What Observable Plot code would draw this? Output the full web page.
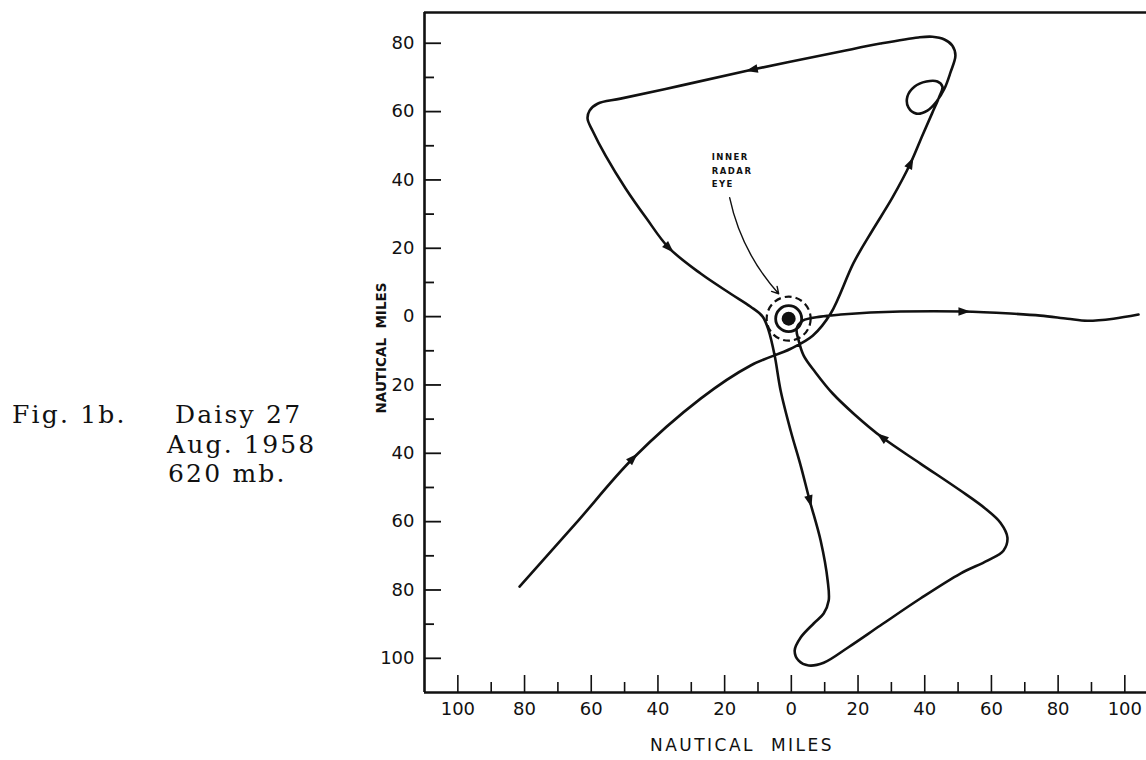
<!DOCTYPE html>
<html>
<head>
<meta charset="utf-8">
<script src="https://cdn.jsdelivr.net/npm/d3@7"></script>
<script src="https://cdn.jsdelivr.net/npm/@observablehq/plot@0.6"></script>
<style>
  html, body { margin: 0; padding: 0; background: #fff; }
  #wrap { position: relative; width: 1146px; height: 760px; background: #fff; overflow: hidden; }
  #wrap svg { position: absolute; left: 0; top: 0; }
  .fig { position: absolute; font-family: "DejaVu Serif", serif; font-size: 25px; line-height: 25px; letter-spacing: 2.2px; white-space: pre; color: #111; }
  .ylab { position: absolute; left: 381px; top: 348px; transform: translate(-50%, -50%) rotate(-90deg); font-family: "DejaVu Sans", sans-serif; font-weight: bold; font-size: 13.5px; letter-spacing: 0px; white-space: pre; color: #111; }
  .xlab { position: absolute; left: 742px; top: 745px; transform: translate(-50%, -50%); font-family: "DejaVu Sans", sans-serif; font-size: 17px; letter-spacing: 2.5px; white-space: pre; color: #111; }
</style>
</head>
<body>
<div id="wrap"></div>
<script>
// ---------- data (nautical miles; x east +, y north +) ----------
const trackX = [-81.5, -64.7, -47.6, -27.2, -12.2, -0.2, 6.4, 11.8, 18.7, 24.3, 30.3, 35.7, 39.3, 42.3, 44.4, 45.3, 43.8, 40.5, 36.9, 34.8, 35.1, 37.5, 40.8, 43.5, 45.9, 47.7, 49.2, 48.3, 45.9, 42.3, 38.1, 26.7, 14.8, -11.6, -33.2, -51.2, -58.1, -60.5, -61.1, -59.6, -55.7, -49.7, -43.4, -36.8, -27.2, -18.2, -12.2, -8.6, -6.8, -5.0, -3.2, -0.2, 2.8, 5.5, 8.8, 10.9, 11.2, 9.7, 6.7, 2.8, 1.0, 2.2, 5.2, 9.7, 16.9, 26.7, 38.7, 50.7, 58.8, 63.6, 64.8, 62.7, 58.2, 50.7, 38.7, 27.3, 18.7, 12.4, 7.3, 3.7, 2.2, 1.6, 3.4, 8.8, 14.8, 23.7, 32.7, 51.6, 65.7, 74.7, 82.8, 88.8, 96.6, 104.1];
const trackY = [-79.0, -60.6, -41.6, -24.0, -14.3, -9.4, -5.6, 0.9, 15.8, 25.2, 34.8, 44.8, 53.0, 59.7, 64.4, 67.3, 68.8, 68.8, 67.3, 64.4, 61.2, 59.4, 60.3, 62.9, 66.7, 71.4, 76.4, 79.3, 81.1, 81.9, 81.7, 79.9, 77.6, 72.3, 67.6, 63.8, 62.3, 60.3, 57.9, 54.4, 47.1, 37.5, 28.7, 20.2, 12.6, 6.7, 2.9, 0.0, -4.1, -11.4, -21.7, -33.4, -43.6, -53.8, -65.6, -77.3, -83.1, -86.9, -89.8, -93.9, -97.7, -100.7, -102.1, -101.3, -96.9, -90.4, -82.5, -75.2, -71.4, -68.5, -64.7, -60.3, -56.2, -50.9, -43.0, -35.4, -28.4, -22.5, -16.4, -11.4, -7.0, -3.5, -1.2, 0.0, 0.6, 1.2, 1.5, 1.5, 0.9, 0.3, -0.6, -1.2, -0.6, 0.6];

// direction arrowheads on the track (heading in degrees clockwise from north)
const arrowX = [-11.6, -36.8, -47.6, 35.7, 51.6, 5.5, 27.3];
const arrowY = [72.3, 20.2, -41.6, 44.8, 1.5, -53.8, -35.4];
const arrowHeading = [-102, 135, 45, 26, 90, 165, -53];

// inner radar eye
const eyeX = -0.8, eyeY = -0.6;

// annotation
const noteText = "INNER\nRADAR\nEYE";
const noteX = -23.9, noteY = 48.6;
const pointerFrom = [-18.5, 34.8];
const pointerTo = [-3.8, 6.7];

// axes
const xLabels = [-100, -80, -60, -40, -20, 0, 20, 40, 60, 80, 100];
const xMinor = [-90, -70, -50, -30, -10, 10, 30, 50, 70, 90];
const yLabels = [80, 60, 40, 20, 0, -20, -40, -60, -80, -100];
const yMinor = [70, 50, 30, 10, -10, -30, -50, -70, -90];
const xDomain = [-110, 106.5];
const yDomain = [-110, 89];
const axisTitle = "NAUTICAL  MILES";
const figLines = [
  {text: "Fig. 1b.", left: 12, top: 402},
  {text: "Daisy 27", left: 175, top: 402},
  {text: "Aug. 1958", left: 167, top: 432},
  {text: "620 mb.", left: 168, top: 461}
];

// ---------- layout ----------
const W = 1146, H = 760, mL = 424, mR = 0, mT = 12, mB = 68;
const plotW = W - mL - mR, plotH = H - mT - mB;

const track = trackX.map((x, i) => ({x, y: trackY[i]}));
const arrows = arrowX.map((x, i) => ({x, y: arrowY[i], a: arrowHeading[i]}));

// slim filled arrowhead symbol (points north before rotation)
const arrowSymbol = {
  draw(context, size) {
    const r = Math.sqrt(size / Math.PI);
    context.moveTo(0, -1.4 * r);
    context.lineTo(0.85 * r, 1.0 * r);
    context.lineTo(-0.85 * r, 1.0 * r);
    context.closePath();
  }
};

const abs = d => String(Math.abs(d));

const chart = Plot.plot({
  width: W, height: H,
  marginLeft: mL, marginRight: mR, marginTop: mT, marginBottom: mB,
  style: {fontFamily: "DejaVu Sans, sans-serif", fontSize: "18px", color: "#111", background: "transparent", overflow: "visible"},
  x: {domain: xDomain, ticks: xLabels, tickSize: 0, tickPadding: 10, tickFormat: abs, label: null},
  y: {domain: yDomain, ticks: yLabels, tickSize: 0, tickPadding: 10, tickFormat: abs, label: null},
  marks: [
    // frame
    Plot.ruleX([xDomain[0]], {stroke: "#111", strokeWidth: 2.6}),
    Plot.ruleY([yDomain[0]], {stroke: "#111", strokeWidth: 2.6}),
    Plot.ruleY([yDomain[1]], {stroke: "#111", strokeWidth: 2.6}),
    // inward ticks
    Plot.tickX(xLabels, {x: d => d, insetTop: plotH - 17, stroke: "#111", strokeWidth: 1.6}),
    Plot.tickX(xMinor, {x: d => d, insetTop: plotH - 10, stroke: "#111", strokeWidth: 1.6}),
    Plot.tickY(yLabels, {y: d => d, insetRight: plotW - 17, stroke: "#111", strokeWidth: 1.8}),
    Plot.tickY(yMinor, {y: d => d, insetRight: plotW - 10, stroke: "#111", strokeWidth: 1.8}),
    // track
    Plot.line(track, {x: "x", y: "y", curve: "catmull-rom", stroke: "#111", strokeWidth: 2.6, strokeLinejoin: "round"}),
    Plot.dot(arrows, {x: "x", y: "y", rotate: "a", symbol: arrowSymbol, r: 5, fill: "#111", stroke: "none"}),
    // eye
    Plot.dot([{x: eyeX, y: eyeY}], {x: "x", y: "y", r: 22, fill: "none", stroke: "#111", strokeWidth: 2.2, strokeDasharray: "7,4"}),
    Plot.dot([{x: eyeX, y: eyeY}], {x: "x", y: "y", r: 13, fill: "none", stroke: "#111", strokeWidth: 2.8}),
    Plot.dot([{x: eyeX, y: eyeY}], {x: "x", y: "y", r: 7, fill: "#111", stroke: "none"}),
    // annotation
    Plot.arrow([{x1: pointerFrom[0], y1: pointerFrom[1], x2: pointerTo[0], y2: pointerTo[1]}],
      {x1: "x1", y1: "y1", x2: "x2", y2: "y2", bend: -15, headLength: 8, stroke: "#111", strokeWidth: 1.4}),
    Plot.text([noteText], {x: noteX, y: noteY, text: d => d, textAnchor: "start", lineAnchor: "top", lineHeight: 1.6, fontSize: 8.5, fontWeight: "bold", fill: "#111"})
  ]
});

// letter spacing for the small annotation text
chart.querySelectorAll('g[aria-label="text"] text').forEach(t => t.setAttribute("letter-spacing", "1.5"));

const wrap = document.getElementById("wrap");
wrap.appendChild(chart);

for (const f of figLines) {
  const d = document.createElement("div");
  d.className = "fig";
  d.style.left = f.left + "px";
  d.style.top = f.top + "px";
  d.textContent = f.text;
  wrap.appendChild(d);
}
const yl = document.createElement("div");
yl.className = "ylab"; yl.textContent = axisTitle; wrap.appendChild(yl);
const xl = document.createElement("div");
xl.className = "xlab"; xl.textContent = axisTitle; wrap.appendChild(xl);
</script>
</body>
</html>
